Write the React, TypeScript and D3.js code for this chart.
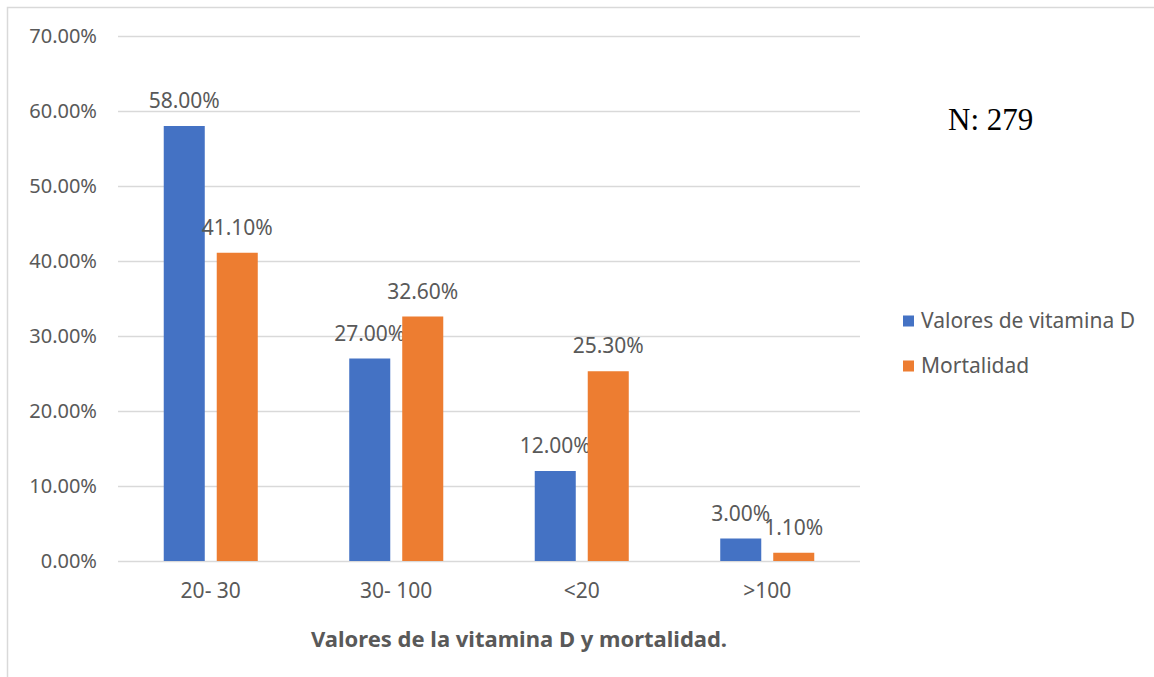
import { useEffect, useRef } from "react"
import * as d3 from "d3"

const categories = ["20- 30", "30- 100", "<20", ">100"]
const seriesNames = ["Valores de vitamina D", "Mortalidad"]
const vitaminaD = [58.0, 27.0, 12.0, 3.0]
const mortalidad = [41.1, 32.6, 25.3, 1.1]
const yTicks = [0, 10, 20, 30, 40, 50, 60, 70]
const colors = ["#4472C4", "#ED7D31"]

const xTitle = "Valores de la vitamina D y mortalidad."
const note = "N: 279"

export default function App() {
  const svgRef = useRef<SVGSVGElement>(null)

  useEffect(() => {
    if (!svgRef.current) return
    const svg = d3.select(svgRef.current)
    svg.selectAll("*").remove()

    const width = 1154
    const height = 677
    const plot = { left: 118, right: 860, top: 36, bottom: 561 }
    const font = "'Noto Sans', 'Open Sans', sans-serif"
    const textColor = "#595959"

    // outer chart border
    svg.append("rect")
      .attr("x", 7.5)
      .attr("y", 7.5)
      .attr("width", width + 20)
      .attr("height", height + 20)
      .attr("fill", "#fff")
      .attr("stroke", "#d9d9d9")
      .attr("stroke-width", 1.5)

    const x = d3.scaleBand<string>().domain(categories).range([plot.left, plot.right])
    const xInner = d3
      .scaleBand<string>()
      .domain(seriesNames)
      .range([0, x.bandwidth()])
      .paddingInner(0.226)
      .paddingOuter(0.863)
    const y = d3.scaleLinear().domain([0, 70]).range([plot.bottom, plot.top])

    // gridlines
    svg.append("g")
      .selectAll("line")
      .data(yTicks)
      .enter()
      .append("line")
      .attr("x1", plot.left)
      .attr("x2", plot.right)
      .attr("y1", (d) => Math.round(y(d)) + 0.5)
      .attr("y2", (d) => Math.round(y(d)) + 0.5)
      .attr("stroke", "#d9d9d9")
      .attr("stroke-width", 1.5)

    // y tick labels
    svg.append("g")
      .selectAll("text")
      .data(yTicks)
      .enter()
      .append("text")
      .attr("x", 97)
      .attr("y", (d) => y(d))
      .attr("dy", "0.35em")
      .attr("text-anchor", "end")
      .attr("font-family", font)
      .attr("font-size", 20)
      .attr("fill", textColor)
      .text((d) => `${d.toFixed(2)}%`)

    const series = [vitaminaD, mortalidad]
    series.forEach((values, si) => {
      const name = seriesNames[si]
      const g = svg.append("g")
      g.selectAll("rect")
        .data(values)
        .enter()
        .append("rect")
        .attr("x", (_, i) => (x(categories[i]) ?? 0) + (xInner(name) ?? 0))
        .attr("y", (d) => y(d))
        .attr("width", xInner.bandwidth())
        .attr("height", (d) => y(0) - y(d))
        .attr("fill", colors[si])

      g.selectAll("text")
        .data(values)
        .enter()
        .append("text")
        .attr("x", (_, i) => (x(categories[i]) ?? 0) + (xInner(name) ?? 0) + xInner.bandwidth() / 2)
        .attr("y", (d) => y(d) - 18)
        .attr("text-anchor", "middle")
        .attr("font-family", font)
        .attr("font-size", 21)
        .attr("fill", textColor)
        .text((d) => `${d.toFixed(2)}%`)
    })

    // x tick labels
    svg.append("g")
      .selectAll("text")
      .data(categories)
      .enter()
      .append("text")
      .attr("x", (d) => (x(d) ?? 0) + x.bandwidth() / 2)
      .attr("y", 598)
      .attr("text-anchor", "middle")
      .attr("font-family", font)
      .attr("font-size", 21)
      .attr("fill", textColor)
      .text((d) => d)

    // x axis title
    svg.append("text")
      .attr("x", 519)
      .attr("y", 647)
      .attr("text-anchor", "middle")
      .attr("font-family", font)
      .attr("font-size", 22)
      .attr("font-weight", "bold")
      .attr("fill", textColor)
      .text(xTitle)

    // legend
    const legend = svg.append("g")
      .selectAll("g")
      .data(seriesNames)
      .enter()
      .append("g")
      .attr("transform", (_, i) => `translate(903, ${321 + i * 45})`)
    legend.append("rect")
      .attr("x", 0)
      .attr("y", -5.5)
      .attr("width", 11)
      .attr("height", 11)
      .attr("fill", (_, i) => colors[i])
    legend.append("text")
      .attr("x", 18)
      .attr("y", 0)
      .attr("dy", "0.35em")
      .attr("font-family", font)
      .attr("font-size", 21)
      .attr("fill", textColor)
      .text((d) => d)

    // sample size note
    svg.append("text")
      .attr("x", 948)
      .attr("y", 130)
      .attr("font-family", "'Liberation Serif', 'Times New Roman', serif")
      .attr("font-size", 31)
      .attr("fill", "#000")
      .text(note)
  }, [])

  return (
    <svg
      ref={svgRef}
      width={1154}
      height={677}
      style={{ position: "absolute", left: 0, top: 0, display: "block" }}
    />
  )
}
